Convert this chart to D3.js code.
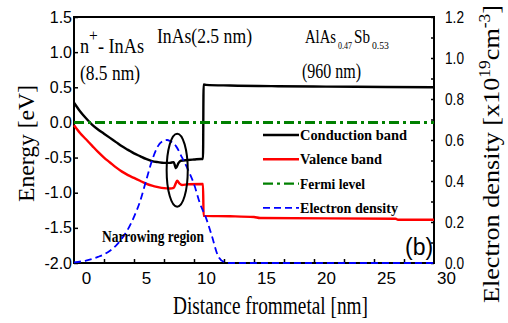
<!DOCTYPE html>
<html>
<head>
<meta charset="utf-8">
<script src="https://cdn.jsdelivr.net/npm/d3@7"></script>
<style>
body { margin: 0; background: #fff; }
svg { display: block; }
.serif { font-family: "Liberation Serif", "Times New Roman", serif; }
.sans { font-family: "Liberation Sans", Arial, sans-serif; }
</style>
</head>
<body>
<svg width="508" height="323"></svg>
<script>
// values (distance as labelled on the axis)
var condX = [-1, -0.5, 0, 0.5, 1, 1.5, 2, 2.5, 3, 3.5, 4, 4.5, 5, 5.5, 6, 6.5, 7, 7.3, 7.5, 7.7, 7.9, 8.5, 9, 9.6, 9.75, 9.8, 10, 12, 16, 20, 25, 29];
var condE = [0.28, 0.16, 0.06, -0.03, -0.10, -0.16, -0.22, -0.28, -0.34, -0.39, -0.44, -0.48, -0.52, -0.55, -0.565, -0.575, -0.575, -0.565, -0.65, -0.58, -0.545, -0.535, -0.528, -0.52, -0.52, 0.54, 0.535, 0.525, 0.515, 0.51, 0.505, 0.50];

var valX = [-1, -0.5, 0, 0.5, 1, 1.5, 2, 2.5, 3, 3.5, 4, 4.5, 5, 5.5, 6, 6.5, 7, 7.3, 7.5, 7.6, 7.8, 8, 8.5, 9.75, 9.8, 12, 14, 14.5, 25.8, 26, 29];
var valE = [-0.04, -0.15, -0.24, -0.33, -0.42, -0.50, -0.57, -0.64, -0.70, -0.75, -0.79, -0.83, -0.87, -0.90, -0.92, -0.935, -0.94, -0.93, -0.86, -0.83, -0.87, -0.89, -0.88, -0.875, -1.33, -1.335, -1.345, -1.36, -1.37, -1.385, -1.385];

var fermiX = [-1, 29];
var fermiE = [0, 0];

var densX = [-1, 0, 1, 1.5, 2, 2.5, 3, 3.5, 4, 4.5, 5, 5.5, 6, 6.5, 6.75, 7, 7.5, 8, 8.5, 9, 9.5, 10, 10.5, 11, 11.5, 12, 29];
var densN = [0.003, 0.012, 0.03, 0.042, 0.06, 0.085, 0.12, 0.165, 0.225, 0.30, 0.40, 0.50, 0.57, 0.597, 0.60, 0.595, 0.57, 0.515, 0.455, 0.385, 0.29, 0.22, 0.13, 0.035, 0.005, 0, 0];

var xTickLabels = [0, 5, 10, 15, 20, 25, 30];
var xTickMarks = [1.5, 4, 6.5, 9, 11.5, 14, 16.5, 19, 21.5, 24, 26.5];
var yLeftTicks = [-2, -1.5, -1, -0.5, 0, 0.5, 1, 1.5];
var yRightTicks = [0, 0.2, 0.4, 0.6, 0.8, 1.0, 1.2];
var yRightMinor = [0.1, 0.3, 0.5, 0.7, 0.9, 1.1];

var legendNames = ["Conduction band", "Valence band", "Fermi level", "Electron density"];
var legendWidths = [107, 82, 65, 98];

var svg = d3.select("svg");

var x = d3.scaleLinear().domain([-1, 29]).range([74, 434]);
var yL = d3.scaleLinear().domain([-2, 1.5]).range([263, 17]);
var yR = d3.scaleLinear().domain([0, 1.2]).range([263, 17]);

var styles = [
    { color: "#000000", width: 2.4, dash: null },
    { color: "#ff0000", width: 2.4, dash: null },
    { color: "#008000", width: 3, dash: "10,4,3,4" },
    { color: "#0000ff", width: 1.8, dash: "7,4" }
];

function fit(sel, w) {
    return sel.attr("textLength", w).attr("lengthAdjust", "spacingAndGlyphs");
}

// frame
svg.append("rect")
    .attr("x", x(-1)).attr("y", yL(1.5))
    .attr("width", x(29) - x(-1)).attr("height", yL(-2) - yL(1.5))
    .attr("fill", "none").attr("stroke", "#000").attr("stroke-width", 2);

// bottom axis: labels and (offset) tick marks
var gx = svg.append("g").attr("class", "sans")
    .attr("transform", "translate(0," + yL(-2) + ")")
    .call(d3.axisBottom(x).tickValues(xTickLabels).tickSize(0).tickPadding(9));
gx.select(".domain").remove();
gx.selectAll("text").attr("font-size", 17).attr("fill", "#000")
    .attr("font-family", "Liberation Sans, Arial, sans-serif");

var gxm = svg.append("g")
    .attr("transform", "translate(0," + yL(-2) + ")")
    .call(d3.axisBottom(x).tickValues(xTickMarks).tickSize(-4).tickFormat(""));
gxm.select(".domain").remove();
gxm.selectAll("line").attr("stroke-width", 1.5);

// left axis
var gy = svg.append("g")
    .attr("transform", "translate(" + x(-1) + ",0)")
    .call(d3.axisLeft(yL).tickValues(yLeftTicks).tickSizeInner(-4).tickSizeOuter(0).tickPadding(2)
        .tickFormat(function (d) { return d.toFixed(1); }));
gy.select(".domain").remove();
gy.selectAll("line").attr("stroke-width", 1.5);
gy.selectAll("text").attr("font-size", 16).attr("fill", "#000")
    .attr("font-family", "Liberation Sans, Arial, sans-serif")
    .attr("x", -2);

// right axis
var gr = svg.append("g")
    .attr("transform", "translate(" + x(29) + ",0)")
    .call(d3.axisRight(yR).tickValues(yRightTicks).tickSizeInner(-3).tickSizeOuter(0).tickPadding(11)
        .tickFormat(function (d) { return d.toFixed(1); }));
gr.select(".domain").remove();
gr.selectAll("line").attr("stroke-width", 1.5);
gr.selectAll("text").attr("font-size", 16).attr("fill", "#000")
    .attr("font-family", "Liberation Sans, Arial, sans-serif")
    .attr("x", 11)
    .each(function () { fit(d3.select(this), 19); });

var grm = svg.append("g")
    .attr("transform", "translate(" + x(29) + ",0)")
    .call(d3.axisRight(yR).tickValues(yRightMinor).tickSize(-3).tickFormat(""));
grm.select(".domain").remove();
grm.selectAll("line").attr("stroke-width", 1.5);

// curves
var lineL = d3.line()
    .x(function (d) { return x(d[0]); })
    .y(function (d) { return yL(d[1]); })
    .curve(d3.curveMonotoneX);
var lineR = d3.line()
    .x(function (d) { return x(d[0]); })
    .y(function (d) { return yR(d[1]); })
    .curve(d3.curveMonotoneX);

var series = [
    { path: lineL(d3.zip(condX, condE)) },
    { path: lineL(d3.zip(valX, valE)) },
    { path: lineL(d3.zip(fermiX, fermiE)) },
    { path: lineR(d3.zip(densX, densN)) }
];

svg.append("g").selectAll("path")
    .data(series)
    .enter().append("path")
    .attr("d", function (d) { return d.path; })
    .attr("fill", "none")
    .attr("stroke", function (d, i) { return styles[i].color; })
    .attr("stroke-width", function (d, i) { return styles[i].width; })
    .attr("stroke-dasharray", function (d, i) { return styles[i].dash; })
    .attr("stroke-linejoin", "round");

// narrowing region ellipse
svg.append("ellipse")
    .attr("cx", x(7.6)).attr("cy", yL(-0.68))
    .attr("rx", x(8.48) - x(7.6)).attr("ry", yL(-1.2) - yL(-0.68))
    .attr("fill", "none").attr("stroke", "#000").attr("stroke-width", 2);

// legend
var legend = svg.append("g").selectAll("g")
    .data(legendNames)
    .enter().append("g")
    .attr("transform", function (d, i) { return "translate(263," + (135 + i * 24.3) + ")"; });

legend.append("line")
    .attr("x1", 0).attr("x2", 36)
    .attr("stroke", function (d, i) { return styles[i].color; })
    .attr("stroke-width", function (d, i) { return Math.min(styles[i].width, 2.4); })
    .attr("stroke-dasharray", function (d, i) { return styles[i].dash; });

legend.append("text")
    .attr("class", "serif")
    .attr("x", 37).attr("y", 5)
    .attr("font-size", 15).attr("font-weight", "bold")
    .text(function (d) { return d; })
    .each(function (d, i) { fit(d3.select(this), legendWidths[i]); });

// annotations
var t1 = svg.append("text").attr("class", "serif").attr("x", 80).attr("y", 53).attr("font-size", 20);
t1.append("tspan").text("n");
t1.append("tspan").attr("dy", -12).attr("font-size", 17).text("+");
t1.append("tspan").attr("dy", 12).text("- InAs");
fit(t1, 64);

fit(svg.append("text").attr("class", "serif").attr("x", 80).attr("y", 80).attr("font-size", 20)
    .text("(8.5 nm)"), 60);

fit(svg.append("text").attr("class", "serif").attr("x", 157).attr("y", 43).attr("font-size", 20)
    .text("InAs(2.5 nm)"), 95);

// AlAs0.47Sb0.53, pieces set side by side and squeezed horizontally
var alParts = [
    { s: "AlAs", sub: false, x0: 305, w: 31 },
    { s: "0.47", sub: true, x0: 338, w: 14 },
    { s: "Sb", sub: false, x0: 354, w: 16 },
    { s: "0.53", sub: true, x0: 372, w: 17 }
];
svg.append("g").selectAll("text")
    .data(alParts)
    .enter().append("text")
    .attr("class", "serif")
    .attr("font-size", function (d) { return d.sub ? 11 : 19; })
    .text(function (d) { return d.s; })
    .attr("transform", function (d) {
        var k = d.w / this.getComputedTextLength();
        return "translate(" + d.x0 + "," + (d.sub ? 49 : 43) + ") scale(" + k + ",1)";
    });

fit(svg.append("text").attr("class", "serif").attr("x", 302).attr("y", 78).attr("font-size", 20)
    .text("(960 nm)"), 59);

fit(svg.append("text").attr("class", "serif").attr("x", 102).attr("y", 242).attr("font-size", 16)
    .attr("font-weight", "bold").text("Narrowing region"), 102);

svg.append("text").attr("class", "sans").attr("x", 405).attr("y", 255).attr("font-size", 23)
    .text("(b)");

// axis titles
fit(svg.append("text").attr("class", "serif")
    .attr("transform", "translate(34,143.5) rotate(-90)")
    .attr("text-anchor", "middle").attr("font-size", 23)
    .text("Energy [eV]"), 117);

fit(svg.append("text").attr("class", "serif")
    .attr("x", 173).attr("y", 314).attr("font-size", 25)
    .text("Distance frommetal [nm]"), 195);

var t3 = svg.append("text").attr("class", "serif")
    .attr("transform", "translate(499,5) rotate(-90)")
    .attr("text-anchor", "end").attr("font-size", 24);
t3.append("tspan").text("Electron density [x10");
t3.append("tspan").attr("dy", -9).attr("font-size", 16).text("19");
t3.append("tspan").attr("dy", 9).text("cm");
t3.append("tspan").attr("dy", -9).attr("font-size", 16).text("-3");
t3.append("tspan").attr("dy", 9).text("]");
fit(t3, 298);
</script>
</body>
</html>
